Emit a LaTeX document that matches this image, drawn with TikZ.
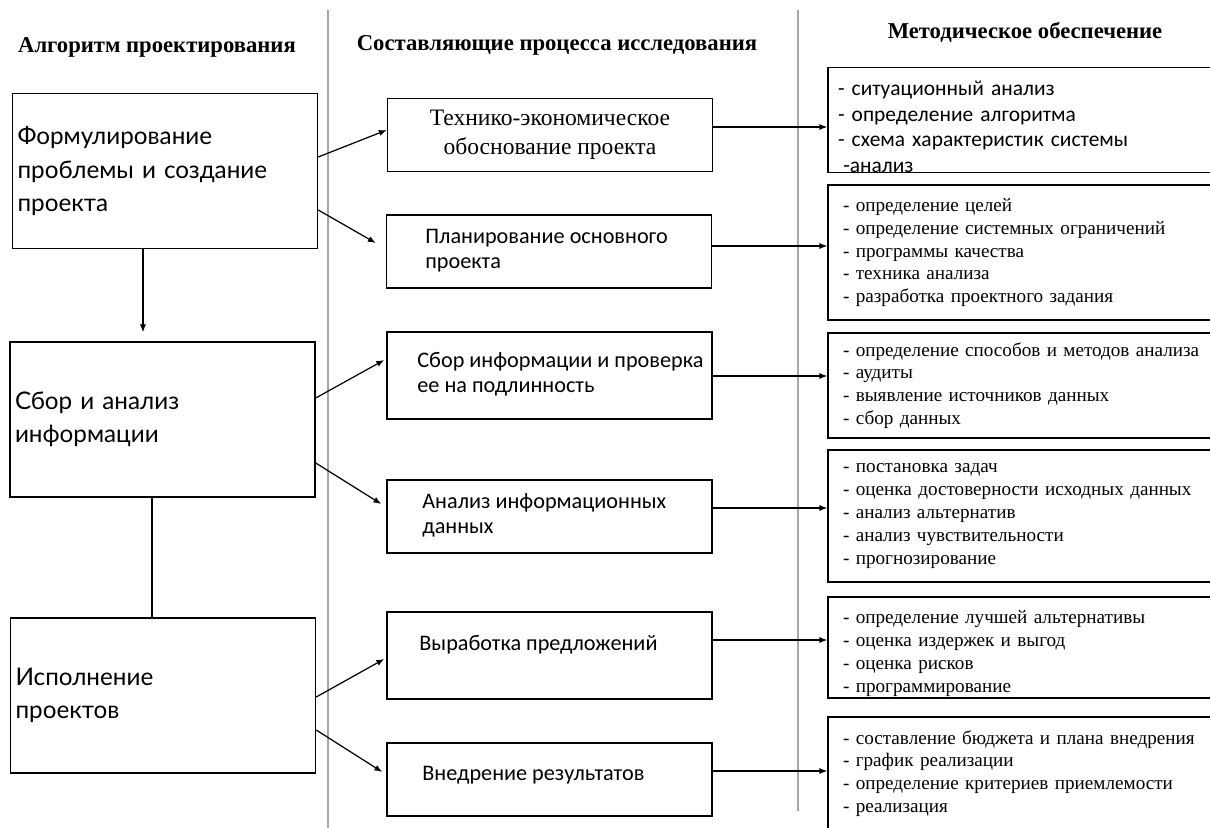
\documentclass[tikz,border=0pt]{standalone}
\usepackage{fontspec}
\setmainfont{Liberation Serif}
\newfontfamily\latofont{Lato}
\newfontfamily\calfont{Carlito}
\usetikzlibrary{arrows.meta}
\usetikzlibrary{calc}

\begin{document}
\begin{tikzpicture}[x=0.02cm,y=-0.02cm]
        \useasboundingbox (0,0) rectangle (1210,828);
        \clip (0,0) rectangle (1210,828);
        \fill[white] (0,0) rectangle (1210,828);

        \draw[gray!70, line width=0.6pt] (328,10) -- (328,828);
        \draw[gray!70, line width=0.6pt] (798,10) -- (798,811);

        \begin{scope}[every node/.style={font=\bfseries\fontsize{12.9}{15}\selectfont}]
            \node (alg)  at (157,47)  {Алгоритм проектирования};
            \node (sost) at (557,45)  {Составляющие процесса исследования};
            \node (met)  at (1025,32) {Методическое обеспечение};
        \end{scope}

        \begin{scope}[every node/.style={draw, line width=0.85pt, inner sep=0pt,
                minimum width=6.1cm, minimum height=3.1cm, text width=5.9cm, align=left,
                font=\latofont\fontsize{13.8}{18.9}\selectfont}]
            \node (form) at (165,171)   {Формулирование\\проблемы и создание\\проекта};
            \node (sbor) at (162.5,419.5) {Сбор и анализ\\информации};
            \node (isp)  at (163,695.5) {Исполнение\\проектов};
        \end{scope}

        \begin{scope}[every node/.style={draw, line width=0.85pt, minimum width=6.5cm, minimum height=1.46cm}]
            \node (teo)     at (550,135)     {};
            \node (plan)    at (549,251.5)   {};
            \node[minimum height=1.74cm] (sborinf) at (549.5,375.5) {};
            \node (analiz)  at (549.5,516.5) {};
            \node[minimum height=1.74cm] (vyrab) at (549.5,655.5) {};
            \node (vnedr)   at (549.5,779.5) {};
        \end{scope}

        \node[align=center, font=\fontsize{13.4}{16.4}\selectfont] (teo-t) at (teo) {Технико-экономическое\\обоснование проекта};
        \begin{scope}[every node/.style={anchor=west, align=left, inner sep=0pt,
                font=\calfont\fontsize{12.65}{14.2}\selectfont}]
            \node (plan-t)    at (425,251)   {Планирование основного\\проекта};
            \node (sborinf-t) at (417,374.5) {Сбор информации и проверка\\ее на подлинность};
            \node (analiz-t)  at (422,515.5) {Анализ информационных\\данных};
            \node (vyrab-t)   at (419,645)   {Выработка предложений};
            \node (vnedr-t)   at (422,775)   {Внедрение результатов};
        \end{scope}

        \begin{scope}[every node/.style={draw, line width=0.85pt, inner sep=0pt,
                minimum width=8.64cm, text width=8.04cm, align=left,
                font=\fontsize{10.9}{13}\selectfont}]
            \node[minimum height=2.08cm, text width=8.24cm, font=\calfont\fontsize{12.2}{14.5}\selectfont] (sit) at (1044,120)
                {\rule{0pt}{16pt}- ситуационный анализ\\- определение алгоритма\\- схема характеристик системы\\\hspace*{3pt}-анализ};
            \node[minimum height=2.7cm] (celi) at (1044,252.5)
                {- определение целей\\- определение системных ограничений\\- программы качества\\- техника анализа\\- разработка проектного задания};
            \node[minimum height=2.1cm] (sposob) at (1044,385.5)
                {- определение способов и методов анализа\\- аудиты\\- выявление источников данных\\- сбор данных};
            \node[minimum height=2.64cm] (zadach) at (1044,516)
                {- постановка задач\\- оценка достоверности исходных данных\\- анализ альтернатив\\- анализ чувствительности\\- прогнозирование};
            \node[minimum height=2.02cm] (luch) at (1044,647.5)
                {\rule{0pt}{14.4pt}- определение лучшей альтернативы\\- оценка издержек и выгод\\- оценка рисков\\- программирование};
            \node[minimum height=2.26cm] (budzh) at (1044,773.5)
                {- составление бюджета и плана внедрения\\- график реализации\\- определение критериев приемлемости\\- реализация};
        \end{scope}

        \begin{scope}[>={Latex[length=4.5pt,width=3.5pt]}, line width=0.7pt]
            \draw[->] (form.east |- 0,157) -- (teo.west |- 0,130);
            \draw[->] (form.east |- 0,210) -- ($(plan.west |- 0,243)+(-10,0)$);
            \draw[->] (sbor.east |- 0,398) -- ($(sborinf.west |- 0,360)+(-2,0)$);
            \draw[->] (sbor.east |- 0,463) -- ($(analiz.west |- 0,504)+(-5,0)$);
            \draw[->] (isp.east |- 0,697)  -- ($(vyrab.west |- 0,659)+(-2,0)$);
            \draw[->] (isp.east |- 0,730)  -- ($(vnedr.west |- 0,772)+(-4,0)$);
            \draw[->] (form.south -| 143,0) -- ($(sbor.north -| 143,0)+(0,-9)$);
            \draw (sbor.south -| 152,0) -- (isp.north -| 152,0);
            \draw[->] (teo.east |- 0,127)     -- (sit.west |- 0,127);
            \draw[->] (plan.east |- 0,246)    -- (celi.west |- 0,246);
            \draw[->] (sborinf.east |- 0,376) -- (sposob.west |- 0,376);
            \draw[->] (analiz.east |- 0,508)  -- (zadach.west |- 0,508);
            \draw[->] (vyrab.east |- 0,640)   -- (luch.west |- 0,640);
            \draw[->] (vnedr.east |- 0,771)   -- (budzh.west |- 0,771);
        \end{scope}
    \end{tikzpicture}
\end{document}
